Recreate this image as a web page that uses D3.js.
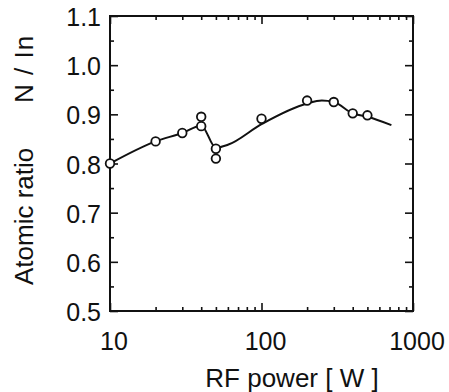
<!DOCTYPE html>
<html>
<head>
<meta charset="utf-8">
<script src="https://cdn.jsdelivr.net/npm/d3@7"></script>
<style>
  body { margin: 0; background: #fff; }
  text { font-family: "Liberation Sans", Arial, sans-serif; fill: #111; }
</style>
</head>
<body>
<div id="container"></div>
<script>
/* DATA */
const power = [10, 20, 30, 40, 40, 50, 50, 100, 200, 300, 400, 500];
const ratio = [0.80, 0.845, 0.862, 0.895, 0.876, 0.83, 0.81, 0.891, 0.928, 0.925, 0.902, 0.898];
// smoothed guide line drawn through the points
const fitPower = [10, 20, 30, 40, 50, 60, 100, 200, 250, 300, 400, 500, 720];
const fitRatio = [0.80, 0.845, 0.862, 0.877, 0.832, 0.838, 0.88, 0.922, 0.928, 0.925, 0.902, 0.895, 0.878];
const yTicks = [0.5, 0.6, 0.7, 0.8, 0.9, 1.0, 1.1];
const xTicks = [10, 100, 1000];

const width = 449, height = 392;
const margin = { top: 16, right: 36, bottom: 81, left: 110 };

const svg = d3.select("#container")
  .append("svg")
  .attr("width", width)
  .attr("height", height);

const x = d3.scaleLog().domain([10, 1000]).range([margin.left, width - margin.right]);
const y = d3.scaleLinear().domain([0.5, 1.1]).range([height - margin.bottom, margin.top]);

// minor ticks
const xMinor = [];
for (let d = 10; d < 1000; d *= 10) for (let k = 2; k <= 9; k++) xMinor.push(k * d);
const yMinor = d3.range(0.55, 1.1, 0.1);

const g = svg.append("g");

// axes with inward ticks on all four sides
const axB = g.append("g").attr("transform", `translate(0,${y(0.5)})`);
axB.call(d3.axisTop(x).tickValues(xTicks).tickSize(8).tickFormat(""));
axB.append("g").call(d3.axisTop(x).tickValues(xMinor).tickSize(4).tickFormat(""));
const axT = g.append("g").attr("transform", `translate(0,${y(1.1)})`);
axT.call(d3.axisBottom(x).tickValues(xTicks).tickSize(8).tickFormat(""));
axT.append("g").call(d3.axisBottom(x).tickValues(xMinor).tickSize(4).tickFormat(""));
const axL = g.append("g").attr("transform", `translate(${x(10)},0)`);
axL.call(d3.axisRight(y).tickValues(yTicks).tickSize(8).tickFormat(""));
axL.append("g").call(d3.axisRight(y).tickValues(yMinor).tickSize(4).tickFormat(""));
const axR = g.append("g").attr("transform", `translate(${x(1000)},0)`);
axR.call(d3.axisLeft(y).tickValues(yTicks).tickSize(8).tickFormat(""));
axR.append("g").call(d3.axisLeft(y).tickValues(yMinor).tickSize(4).tickFormat(""));

g.selectAll(".domain").remove();
g.selectAll(".tick line").attr("stroke", "#111").attr("stroke-width", 1.6);

// frame
svg.append("rect")
  .attr("x", x(10)).attr("y", y(1.1))
  .attr("width", x(1000) - x(10)).attr("height", y(0.5) - y(1.1))
  .attr("fill", "none").attr("stroke", "#111").attr("stroke-width", 2);

// tick labels
svg.selectAll("text.ylab")
  .data(yTicks)
  .join("text")
  .attr("class", "ylab")
  .attr("x", x(10) - 9)
  .attr("y", d => y(d) + 10)
  .attr("text-anchor", "end")
  .style("font-size", "25px")
  .text(d => d.toFixed(1));

svg.selectAll("text.xlab")
  .data(xTicks)
  .join("text")
  .attr("class", "xlab")
  .attr("x", d => x(d) + 4)
  .attr("y", y(0.5) + 39)
  .attr("text-anchor", "middle")
  .style("font-size", "25px")
  .text(d => d);

// axis titles
svg.append("text")
  .attr("x", 292).attr("y", 387)
  .attr("text-anchor", "middle")
  .style("font-size", "26px")
  .text("RF power [ W ]");

svg.append("text")
  .attr("transform", `translate(33,285) rotate(-90)`)
  .attr("text-anchor", "start")
  .style("font-size", "26px")
  .text("Atomic ratio");

svg.append("text")
  .attr("transform", `translate(33,103) rotate(-90)`)
  .attr("text-anchor", "start")
  .style("font-size", "26px")
  .style("letter-spacing", "1px")
  .text("N / In");

// guide curve
const fit = fitPower.map((p, i) => [p, fitRatio[i]]);
svg.append("path")
  .datum(fit)
  .attr("d", d3.line().x(d => x(d[0])).y(d => y(d[1])).curve(d3.curveMonotoneX))
  .attr("fill", "none")
  .attr("stroke", "#111")
  .attr("stroke-width", 2);

// data points
svg.selectAll("circle.pt")
  .data(power.map((p, i) => [p, ratio[i]]))
  .join("circle")
  .attr("class", "pt")
  .attr("cx", d => x(d[0]))
  .attr("cy", d => y(d[1]))
  .attr("r", 4.3)
  .attr("fill", "#fff")
  .attr("stroke", "#111")
  .attr("stroke-width", 1.8);
</script>
</body>
</html>
